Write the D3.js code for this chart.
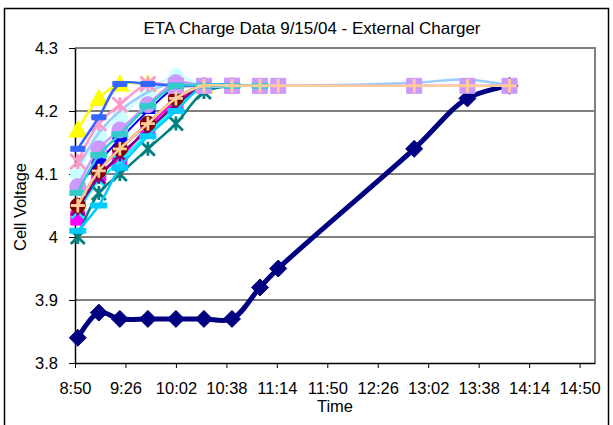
<!DOCTYPE html>
<html>
<head>
<meta charset="utf-8">
<script src="https://cdn.jsdelivr.net/npm/d3@7"></script>
<style>
  body { margin: 0; background: #fff; }
  svg { display: block; font-family: Arial, 'Liberation Sans', sans-serif; }
</style>
</head>
<body>
<svg id="chart" width="613" height="425"></svg>
<script>
// sample times shared by every series
const times = ['8:52', '9:07', '9:22', '9:42', '10:02', '10:22', '10:42', '11:02', '11:15', '12:52', '13:30', '14:00']
const xTickLabels = ['8:50', '9:26', '10:02', '10:38', '11:14', '11:50', '12:26', '13:02', '13:38', '14:14', '14:50']
const yTicks = [3.8, 3.9, 4.0, 4.1, 4.2, 4.3]

// cell voltages, one array per cell (null = no reading)
const navy      = [3.84, 3.88, 3.87, 3.87, 3.87, 3.87, 3.87, 3.92, 3.95, 4.14, 4.22, 4.24]
const magenta   = [4.03, 4.10, 4.125, 4.175, 4.215, 4.24, 4.24, 4.24, null, null, null, null]
const yellow    = [4.17, 4.22, 4.243, 4.243, 4.24, 4.24, null, null, null, null, null, null]
const cyan      = [4.04, 4.09, 4.12, 4.165, 4.205, 4.24, 4.24, null, null, null, null, null]
const purple    = [4.045, 4.095, 4.13, 4.17, 4.21, 4.24, 4.24, null, null, null, null, null]
const maroon    = [4.05, 4.105, 4.14, 4.18, 4.22, 4.24, 4.24, 4.24, null, null, null, null]
const teal      = [4.00, 4.07, 4.10, 4.14, 4.18, 4.23, 4.24, 4.24, null, null, null, null]
const blue      = [4.08, 4.12, 4.155, 4.20, 4.237, 4.24, 4.24, null, null, null, null, null]
const sky       = [4.01, 4.05, 4.11, 4.16, 4.20, 4.24, 4.24, null, null, null, null, null]
const turquoise = [4.10, 4.16, 4.19, 4.23, 4.255, 4.24, 4.24, 4.24, null, null, null, null]
const paleBlue  = [4.11, 4.165, 4.20, 4.23, 4.245, 4.24, 4.24, 4.24, 4.24, 4.245, 4.25, 4.24]
const rose      = [4.12, 4.18, 4.21, 4.243, 4.24, 4.24, 4.24, null, null, null, null, null]
const lavender  = [4.08, 4.14, 4.17, 4.21, 4.245, 4.24, 4.24, null, null, null, null, null]
const lilac     = [null, null, null, null, 4.24, 4.24, 4.24, 4.24, 4.24, 4.24, 4.24, 4.24]
const royal     = [4.14, 4.19, 4.243, 4.243, 4.24, 4.24, null, null, null, null, null, null]
const aqua      = [4.07, 4.13, 4.163, 4.208, 4.24, 4.24, 4.24, 4.24, null, null, null, null]
const tan       = [4.05, 4.105, 4.14, 4.18, 4.22, 4.24, 4.24, 4.24, 4.24, 4.24, 4.24, 4.24]

const series = [
    { values: navy, color: '#000080', marker: 'diamond', r: 8.5, width: 5 },
    { values: magenta, color: '#FF00FF', marker: 'square', r: 7, width: 2.5 },
    { values: yellow, color: '#FFFF00', marker: 'triangle', r: 9, width: 2.5 },
    { values: cyan, color: '#00FFFF', marker: 'x', r: 6.5, width: 2.5 },
    { values: purple, color: '#800080', marker: 'star', r: 6.5, width: 2.5 },
    { values: maroon, color: '#800000', marker: 'circle', r: 7.5, width: 2.5 },
    { values: teal, color: '#008080', marker: 'star', r: 7, width: 2.5 },
    { values: blue, color: '#0000FF', marker: 'dash', r: 7, width: 2 },
    { values: sky, color: '#00CCFF', marker: 'dash', r: 8, width: 2.5 },
    { values: turquoise, color: '#CCFFFF', marker: 'circle', r: 7.5, width: 2.5 },
    { values: paleBlue, color: '#99CCFF', marker: 'none', r: 0, width: 2.5 },
    { values: rose, color: '#FF99CC', marker: 'star', r: 7.5, width: 2.5 },
    { values: lavender, color: '#CC99FF', marker: 'circle', r: 8, width: 2.5 },
    { values: lilac, color: '#CC99FF', marker: 'square', r: 7.5, width: 2.5 },
    { values: royal, color: '#3366FF', marker: 'dash', r: 7, width: 2.5 },
    { values: aqua, color: '#33CCCC', marker: 'dash', r: 8, width: 2.5 },
    { values: tan, color: '#FFCC99', marker: 'plus', r: 7, width: 2.5 }
]

const toMin = t => { const [h, m] = t.split(':').map(Number); return h * 60 + m }

const svg = d3.select('#chart')

const x = d3.scaleLinear().domain([toMin('8:50'), toMin('15:01')]).range([75, 595])
const y = d3.scaleLinear().domain([3.8, 4.3]).range([363, 48])

// outer chart border
svg.append('rect')
    .attr('x', 4.5).attr('y', 8.5).attr('width', 604).attr('height', 430)
    .attr('fill', 'none').attr('stroke', '#000').attr('stroke-width', 1.5)

svg.append('text')
    .attr('x', 312).attr('y', 34)
    .attr('text-anchor', 'middle')
    .attr('font-size', '17px')
    .text('ETA Charge Data 9/15/04 - External Charger')

// gridlines
svg.append('g')
    .selectAll('line')
    .data(yTicks.slice(1, -1))
    .enter().append('line')
    .attr('x1', 75).attr('x2', 595)
    .attr('y1', d => y(d)).attr('y2', d => y(d))
    .attr('stroke', '#000').attr('stroke-width', 1)

// plot area frame (grey top/right)
svg.append('path')
    .attr('d', `M75,${y(4.3)}H595V${y(3.8)}`)
    .attr('fill', 'none').attr('stroke', '#808080').attr('stroke-width', 2)

const xAxis = d3.axisBottom(x)
    .tickValues(xTickLabels.map(toMin))
    .tickFormat((d, i) => xTickLabels[i])
    .tickSizeInner(5).tickSizeOuter(0).tickPadding(14)

const gx = svg.append('g').attr('transform', `translate(0,${y(3.8)})`).call(xAxis)
gx.select('.domain').attr('stroke', '#000').attr('stroke-width', 1.5)
gx.selectAll('.tick line').attr('stroke', '#000')
gx.selectAll('.tick text').attr('font-size', '16.5px').attr('font-family', null).attr('fill', '#000')

const yAxis = d3.axisLeft(y)
    .tickValues(yTicks)
    .tickFormat(d3.format('~g'))
    .tickSizeInner(6).tickSizeOuter(0).tickPadding(11)

const gy = svg.append('g').attr('transform', 'translate(75,0)').call(yAxis)
gy.select('.domain').attr('stroke', '#000').attr('stroke-width', 1.5)
gy.selectAll('.tick line').attr('stroke', '#000')
gy.selectAll('.tick text').attr('font-size', '16.5px').attr('font-family', null).attr('fill', '#000')

svg.append('text')
    .attr('x', 335).attr('y', 412)
    .attr('text-anchor', 'middle')
    .attr('font-size', '16.5px')
    .text('Time')

svg.append('text')
    .attr('transform', 'translate(26,207) rotate(-90)')
    .attr('text-anchor', 'middle')
    .attr('font-size', '16.5px')
    .text('Cell Voltage')

function markerPath(shape, r) {
    switch (shape) {
        case 'diamond': return `M0,${-r}L${r},0L0,${r}L${-r},0Z`
        case 'square': return `M${-r},${-r}H${r}V${r}H${-r}Z`
        case 'triangle': return `M0,${-r}L${r},${r * 0.8}H${-r}Z`
        case 'circle': return d3.symbol(d3.symbolCircle, Math.PI * r * r)()
        case 'x': return `M${-r},${-r}L${r},${r}M${r},${-r}L${-r},${r}`
        case 'plus': return `M${-r},0H${r}M0,${-r}V${r}`
        case 'star': return `M${-r},${-r}L${r},${r}M${r},${-r}L${-r},${r}M0,${-r}V${r}`
        case 'dash': return `M${-r},-2.5H${r}V2.5H${-r}Z`
        default: return null
    }
}
const openMarkers = ['x', 'plus', 'star']

const line = d3.line()
    .defined(d => d.v != null)
    .x(d => x(toMin(d.t)))
    .y(d => y(d.v))
    .curve(d3.curveCatmullRom.alpha(0.5))

const plot = svg.append('g')

series.forEach(s => {
    const pts = times.map((t, i) => ({ t, v: s.values[i] }))
    const g = plot.append('g')
    g.append('path')
        .datum(pts)
        .attr('d', line)
        .attr('fill', 'none')
        .attr('stroke', s.color)
        .attr('stroke-width', s.width)
        .attr('stroke-linejoin', 'round')

    if (s.marker === 'none') return
    const open = openMarkers.includes(s.marker)
    g.selectAll('path.m')
        .data(pts.filter(d => d.v != null))
        .enter().append('path')
        .attr('class', 'm')
        .attr('transform', d => `translate(${x(toMin(d.t))},${y(d.v)})`)
        .attr('d', markerPath(s.marker, s.r))
        .attr('fill', open ? 'none' : s.color)
        .attr('stroke', s.color)
        .attr('stroke-width', open ? 2.8 : 1)
})
</script>
</body>
</html>
